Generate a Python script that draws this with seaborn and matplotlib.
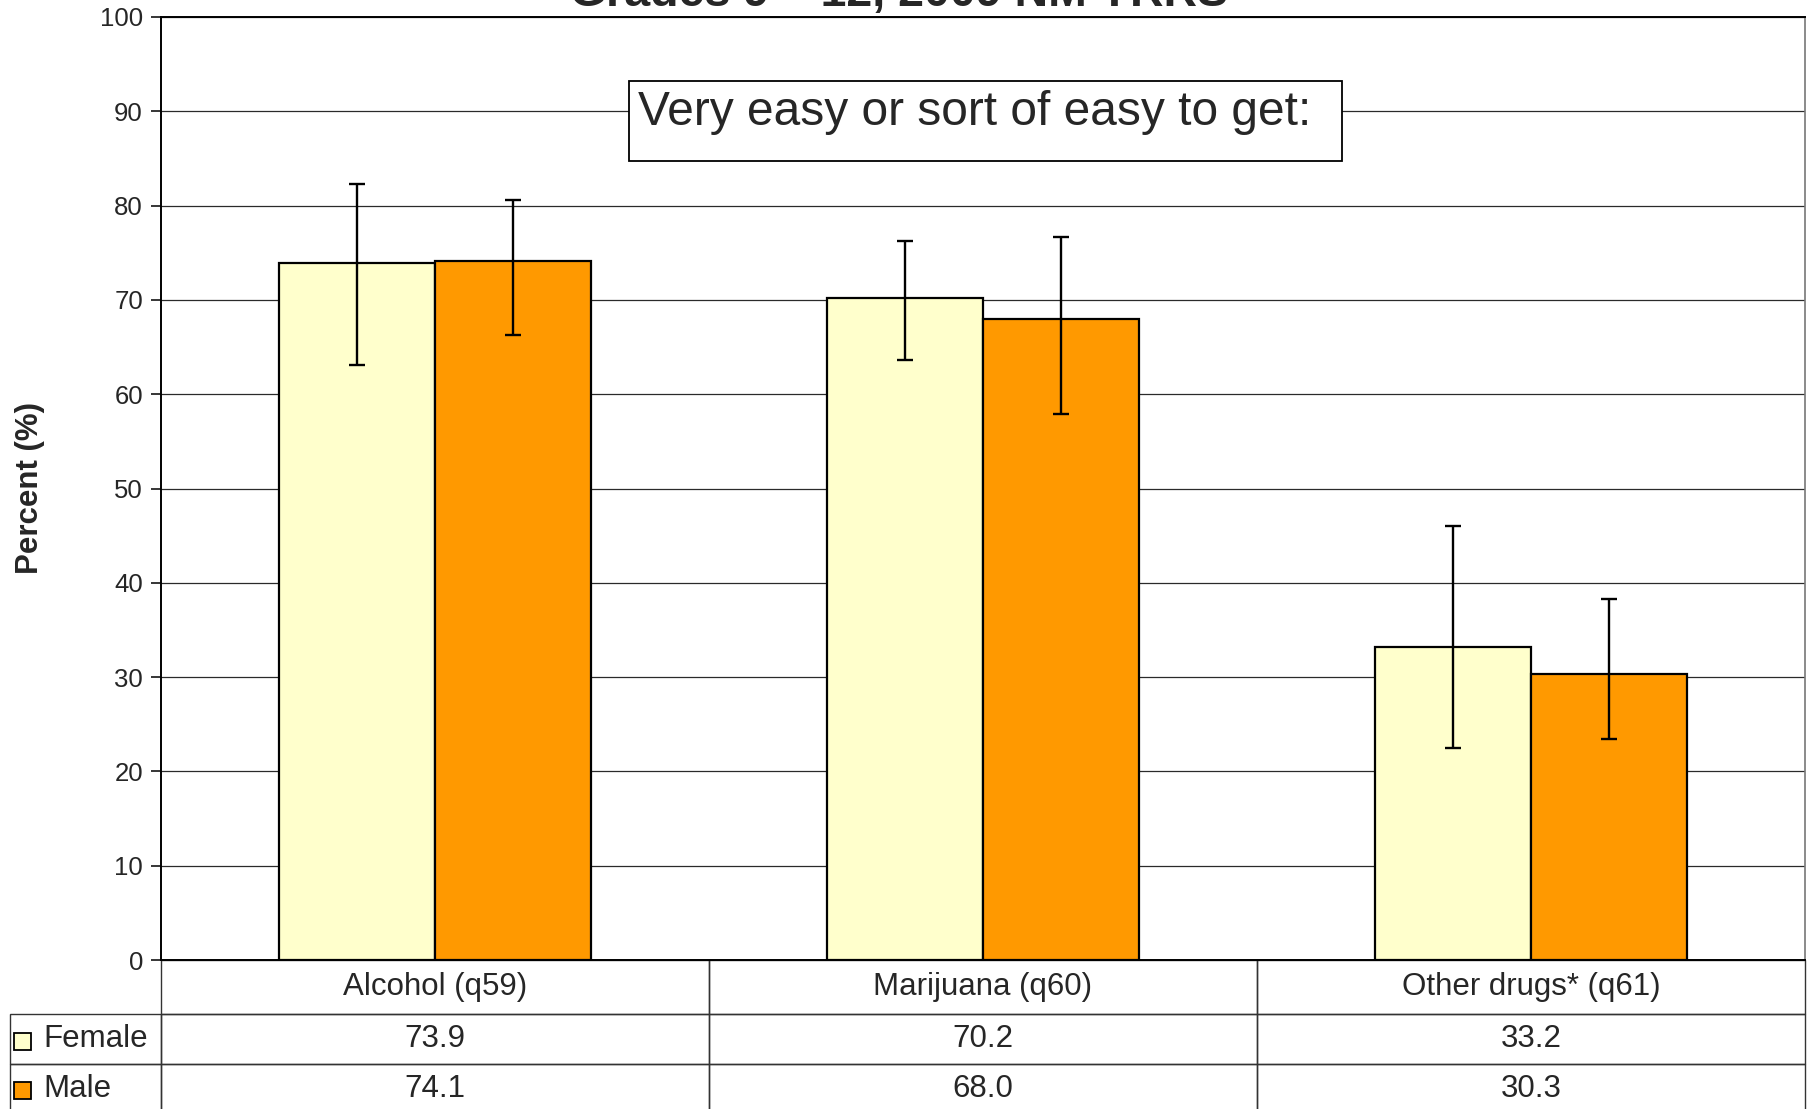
import matplotlib
matplotlib.use("Agg")
import matplotlib.pyplot as plt
import numpy as np
import pandas as pd
import seaborn as sns
from matplotlib.patches import Rectangle

# Data
categories = ['Alcohol (q59)', 'Marijuana (q60)', 'Other drugs* (q61)']
sexes = ['Female', 'Male']
female_pct = [73.9, 70.2, 33.2]
male_pct = [74.1, 68.0, 30.3]
female_low = [63.1, 63.6, 22.5]
female_high = [82.3, 76.2, 46.0]
male_low = [66.3, 57.9, 23.4]
male_high = [80.6, 76.7, 38.3]
bar_colors = ['#FFFFCC', '#FF9900']
y_ticks = list(range(0, 101, 10))

df = pd.DataFrame({'drug': categories * 2,
                   'sex': [sexes[0]] * 3 + [sexes[1]] * 3,
                   'pct': female_pct + male_pct})

sns.set_style('white')
plt.rcParams['font.family'] = ['Liberation Sans', 'DejaVu Sans']

W, H = 1813, 1109
ax_w, ax_h = 1805 - 161, 960 - 17
fig = plt.figure(figsize=(W / 100, H / 100), dpi=100)
ax = fig.add_axes([161 / W, 1 - 960 / H, ax_w / W, ax_h / H])

sns.barplot(data=df, x='drug', y='pct', hue='sex', palette=bar_colors, saturation=1,
            width=0.57, gap=0, edgecolor='black', linewidth=1.6, errorbar=None,
            legend=False, ax=ax, zorder=2)

# confidence intervals on top of each bar
lows = [female_low, male_low]
highs = [female_high, male_high]
vals = [female_pct, male_pct]
bar_containers = list(ax.containers)
for i, cont in enumerate(bar_containers):
    xs = [p.get_x() + p.get_width() / 2 for p in cont]
    v = np.array(vals[i])
    err = [v - np.array(lows[i]), np.array(highs[i]) - v]
    ax.errorbar(xs, v, yerr=err, fmt='none', ecolor='black', elinewidth=1.7,
                capsize=5.8, capthick=1.7, zorder=4)

ax.set_ylim(0, 100)
ax.set_xlim(-0.5, 2.5)
ax.set_yticks(y_ticks)
ax.yaxis.grid(True, color='#2a2a2a', linewidth=0.9)
ax.set_axisbelow(True)
ax.tick_params(axis='y', left=True, length=7, width=1.1, color='black', labelsize=18.5, pad=6)
ax.tick_params(axis='x', bottom=False, labelbottom=False)
ax.set_xlabel('')
ax.set_ylabel('')
for side in ['left', 'bottom', 'top']:
    ax.spines[side].set_color('black')
    ax.spines[side].set_linewidth(1.4)
ax.spines['right'].set_color('#777777')
ax.spines['right'].set_linewidth(1.2)

fig.text(30 / W, 1 - 488 / H, 'Percent (%)', rotation=90, ha='center', va='center',
         fontsize=22.5, fontweight='bold')

# title, mostly cut off by the top edge
fig.text(0.496, 1 - 6 / H, 'Grades 9 \u2013 12, 2009 NM YRRS', ha='center', va='baseline',
         fontsize=33.5, fontweight='bold')

# annotation box
ax.add_patch(Rectangle((629 / W, 1 - 161 / H), 713 / W, 80 / H, transform=fig.transFigure,
                       facecolor='white', edgecolor='black', linewidth=1.3, zorder=5,
                       clip_on=False))
ax.text(638 / W, 1 - 125 / H, 'Very easy or sort of easy to get:', transform=fig.transFigure,
        ha='left', va='baseline', fontsize=34.5, zorder=6)

# data table under the axis
cell_text = [[f'{v:.1f}' for v in female_pct], [f'{v:.1f}' for v in male_pct]]
tbl = ax.table(cellText=cell_text, rowLabels=sexes, colLabels=categories,
               cellLoc='center', rowLoc='left', loc='bottom')
tbl.auto_set_font_size(False)
lab_px = 162
for (r, c), cell in tbl.get_celld().items():
    cell.set_edgecolor('#333333')
    cell.set_linewidth(1.0)
    cell.set_facecolor('none')
    cell.get_text().set_fontsize(22.5)
    cell.set_height((54 if r == 0 else 50) / ax_h)
    cell.set_width(lab_px / ax_w if c == -1 else 1 / 3)
    if c == -1:
        cell.PAD = 36 / lab_px

# legend swatches in the row label cells
for i, col in enumerate(bar_colors):
    y_top = [1033, 1082][i]
    ax.add_patch(Rectangle((14 / W, 1 - (y_top + 17) / H), 17 / W, 17 / H,
                           transform=fig.transFigure, facecolor=col, edgecolor='black',
                           linewidth=1.3, clip_on=False, zorder=6))

fig.savefig('out.png', dpi=100)
